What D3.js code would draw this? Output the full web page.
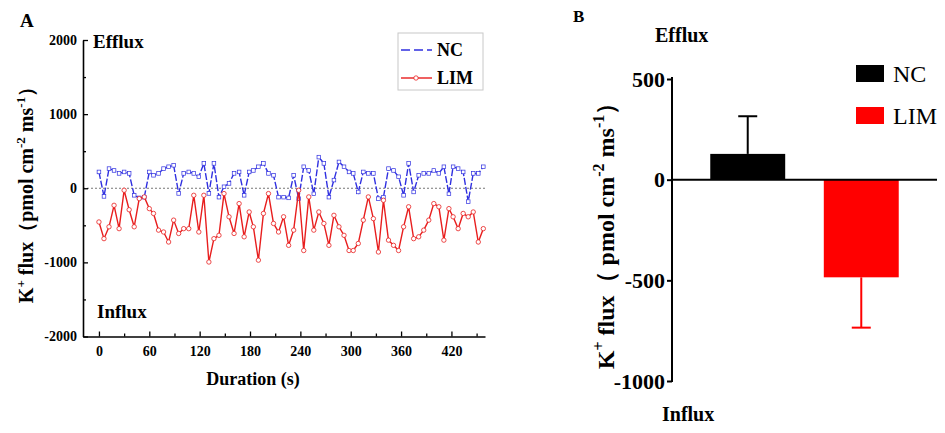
<!DOCTYPE html>
<html>
<head>
<meta charset="utf-8">
<script src="https://cdn.jsdelivr.net/npm/d3@7"></script>
<style>
body { margin: 0; background: #fff; }
text { font-family: "Liberation Serif", "Times New Roman", serif; font-weight: bold; fill: #000; }
</style>
</head>
<body>
<svg id="chart" width="945" height="433"></svg>
<script>
// panel A: time course, seconds
var times = [0,6,12,18,24,30,36,42,48,54,
  60,65,71,77,83,89,95,101,107,113,
  119,125,131,137,143,149,155,161,167,173,
  179,184,190,196,202,208,214,220,226,232,
  238,244,250,256,262,268,274,280,286,292,
  298,303,309,315,321,327,333,339,345,351,
  357,363,369,375,381,387,393,399,405,411,
  417,422,428,434,440,446,452,458];
var ncFlux = [220,-110,265,240,200,220,200,-95,-130,-120,
  220,175,200,265,290,310,-70,200,220,200,
  155,335,-70,335,-120,20,65,200,220,-95,
  220,240,290,335,200,175,-120,-120,-130,175,
  -140,290,240,-75,420,335,-120,110,355,290,
  220,200,-50,220,200,200,-140,-120,265,240,
  155,-95,335,-50,175,200,200,240,200,290,
  -75,290,265,220,-180,200,200,290];
var limFlux = [-455,-680,-520,-230,-545,-27,-290,-520,-140,-117,
  -275,-340,-565,-590,-725,-430,-610,-545,-545,-95,
  -590,-95,-995,-680,-635,-72,-385,-610,-207,-655,
  -320,-520,-970,-340,-72,-475,-590,-385,-770,-565,
  -27,-840,-117,-565,-320,-475,-770,-365,-520,-635,
  -840,-840,-745,-430,-117,-410,-860,-162,-700,-770,
  -840,-520,-250,-680,-655,-565,-430,-207,-250,-700,
  -275,-385,-545,-340,-385,-320,-725,-545];
var xTicksA = [0,60,120,180,240,300,360,420];
var xMinorA = [30,90,150,210,270,330,390,450];
var yTicksA = [-2000,-1000,0,1000,2000];
var yMinorA = [-1500,-500,500,1500];

// panel B: means and error
var barGroups = ["NC","LIM"];
var barMeans = [128,-485];
var barErrors = [187,250];
var yTicksB = [-1000,-500,0,500];

var svg = d3.select("#chart");
var fmt = function(d) { return String(d); };

function axisLabel(g, x, y, size, spaced) {
  // K+ flux (pmol cm-2 ms-1), rotated
  var parts = [["K",0],["+",1],[" flux",0],["（",0],[spaced ? " pmol cm" : "pmol cm",0],["-2",1],[" ms",0],["-1",1],["）",0]];
  var t = g.append("text")
    .attr("transform","translate(" + x + "," + y + ") rotate(-90)")
    .attr("text-anchor","middle")
    .style("font-size", size + "px");
  var up = false;
  parts.forEach(function(p) {
    var s = t.append("tspan").text(p[0]);
    if (p[1]) {
      s.style("font-size", Math.round(size*0.65) + "px").attr("dy", up ? 0 : -size*0.42);
      up = true;
    } else {
      if (up) s.attr("dy", size*0.42);
      up = false;
    }
  });
}

// ---------- panel A ----------
var xA = d3.scaleLinear().domain([-19,460]).range([83,485]);
var yA = d3.scaleLinear().domain([-2000,2000]).range([336.5,40]);
var gA = svg.append("g");

gA.append("line")
  .attr("x1", xA.range()[0]).attr("x2", xA.range()[1])
  .attr("y1", yA(0)).attr("y2", yA(0))
  .attr("stroke","#777").attr("stroke-width",1).attr("stroke-dasharray","2,2");

var yAxisA = gA.append("g").attr("transform","translate(83,0)")
  .call(d3.axisLeft(yA).tickValues(yTicksA).tickSize(-5).tickSizeOuter(0).tickPadding(6).tickFormat(fmt));
gA.append("g").attr("transform","translate(83,0)")
  .call(d3.axisLeft(yA).tickValues(yMinorA).tickSize(-3).tickFormat(""))
  .select(".domain").remove();
var xAxisA = gA.append("g").attr("transform","translate(0," + yA.range()[0] + ")")
  .call(d3.axisBottom(xA).tickValues(xTicksA).tickSize(-5).tickSizeOuter(0).tickPadding(10).tickFormat(fmt));
gA.append("g").attr("transform","translate(0," + yA.range()[0] + ")")
  .call(d3.axisBottom(xA).tickValues(xMinorA).tickSize(-3).tickFormat(""))
  .select(".domain").remove();
gA.selectAll(".domain").attr("stroke-width",1.6);
gA.selectAll(".tick line").attr("stroke-width",1.3);
yAxisA.selectAll("text").style("font-size","14px");
xAxisA.selectAll("text").style("font-size","14px");

var lineA = d3.line().x(function(d){ return xA(d.t); }).y(function(d){ return yA(d.v); });
var ncPts = times.map(function(t,i){ return {t:t, v:ncFlux[i]}; });
var limPts = times.map(function(t,i){ return {t:t, v:limFlux[i]}; });
var blue = "#2f2fe0", red = "#e81e1e";

gA.append("path").datum(ncPts).attr("d",lineA)
  .attr("fill","none").attr("stroke",blue).attr("stroke-width",1.4).attr("stroke-dasharray","7,2");
gA.selectAll(".nc").data(ncPts).enter().append("rect")
  .attr("x",function(d){ return xA(d.t)-1.8; }).attr("y",function(d){ return yA(d.v)-1.8; })
  .attr("width",3.6).attr("height",3.6)
  .attr("fill","#fff").attr("stroke",blue).attr("stroke-width",0.7);

gA.append("path").datum(limPts).attr("d",lineA)
  .attr("fill","none").attr("stroke",red).attr("stroke-width",1.4);
gA.selectAll(".lim").data(limPts).enter().append("circle")
  .attr("cx",function(d){ return xA(d.t); }).attr("cy",function(d){ return yA(d.v); })
  .attr("r",2.2)
  .attr("fill","#fff").attr("stroke",red).attr("stroke-width",0.8);

// legend A
gA.append("rect").attr("x",398).attr("y",33).attr("width",85).attr("height",57)
  .attr("fill","#fff").attr("stroke","#c8c8c8").attr("stroke-width",1);
gA.append("line").attr("x1",401).attr("x2",432).attr("y1",50).attr("y2",50)
  .attr("stroke",blue).attr("stroke-width",1.4).attr("stroke-dasharray","9,4");
gA.append("line").attr("x1",401).attr("x2",432).attr("y1",78).attr("y2",78)
  .attr("stroke",red).attr("stroke-width",1.4);
gA.append("circle").attr("cx",416).attr("cy",78).attr("r",2.2)
  .attr("fill","#fff").attr("stroke",red).attr("stroke-width",0.8);
gA.append("text").attr("x",437).attr("y",56).style("font-size","18px").text("NC");
gA.append("text").attr("x",437).attr("y",84).style("font-size","18px").text("LIM");

gA.append("text").attr("x",20).attr("y",27).style("font-size","19px").text("A");
gA.append("text").attr("x",93).attr("y",48).style("font-size","19px").text("Efflux");
gA.append("text").attr("x",97).attr("y",318).style("font-size","19px").text("Influx");
gA.append("text").attr("x",253).attr("y",385).attr("text-anchor","middle").style("font-size","18px").text("Duration (s)");
axisLabel(gA, 33, 190, 20, false);

// ---------- panel B ----------
var xB = d3.scaleBand().domain(barGroups).range([672,937]).paddingInner(0.34).paddingOuter(0.337);
var yB = d3.scaleLinear().domain([-1000,500]).range([381,79]);
var barColors = ["#000000","#ff0000"];
var gB = svg.append("g");

gB.selectAll(".err").data(barGroups).enter().append("g").each(function(g,i){
  var cx = xB(g) + xB.bandwidth()/2;
  var end = barMeans[i] >= 0 ? barMeans[i] + barErrors[i] : barMeans[i] - barErrors[i];
  var sel = d3.select(this);
  sel.append("line").attr("x1",cx).attr("x2",cx).attr("y1",yB(barMeans[i])).attr("y2",yB(end))
    .attr("stroke",barColors[i]).attr("stroke-width",2);
  sel.append("line").attr("x1",cx-9.5).attr("x2",cx+9.5).attr("y1",yB(end)).attr("y2",yB(end))
    .attr("stroke",barColors[i]).attr("stroke-width",2);
});
gB.selectAll(".bar").data(barGroups).enter().append("rect")
  .attr("x",function(g){ return xB(g); })
  .attr("width",xB.bandwidth())
  .attr("y",function(g,i){ return yB(Math.max(0,barMeans[i])); })
  .attr("height",function(g,i){ return Math.abs(yB(barMeans[i]) - yB(0)); })
  .attr("fill",function(g,i){ return barColors[i]; });

var yAxisB = gB.append("g").attr("transform","translate(672,0)")
  .call(d3.axisLeft(yB).tickValues(yTicksB).tickSize(5).tickSizeOuter(0).tickPadding(2).tickFormat(fmt));
yAxisB.select(".domain").attr("stroke-width",2).attr("d","M0,77V382");
yAxisB.selectAll(".tick line").attr("stroke-width",2);
yAxisB.selectAll("text").style("font-size","22px");
gB.append("line").attr("x1",672).attr("x2",937).attr("y1",yB(0)).attr("y2",yB(0))
  .attr("stroke","#000").attr("stroke-width",2);

// legend B
barGroups.forEach(function(g,i){
  gB.append("rect").attr("x",856).attr("y",65 + i*42).attr("width",28).attr("height",17)
    .attr("fill",barColors[i]);
  gB.append("text").attr("x",893).attr("y",82 + i*42).style("font-size","24px").style("font-weight","normal").text(g);
});

gB.append("text").attr("x",573).attr("y",22).style("font-size","17px").text("B");
gB.append("text").attr("x",655).attr("y",42).style("font-size","20px").text("Efflux");
gB.append("text").attr("x",662).attr("y",421).style("font-size","20px").text("Influx");
axisLabel(gB, 614, 230, 24, true);
</script>
</body>
</html>
